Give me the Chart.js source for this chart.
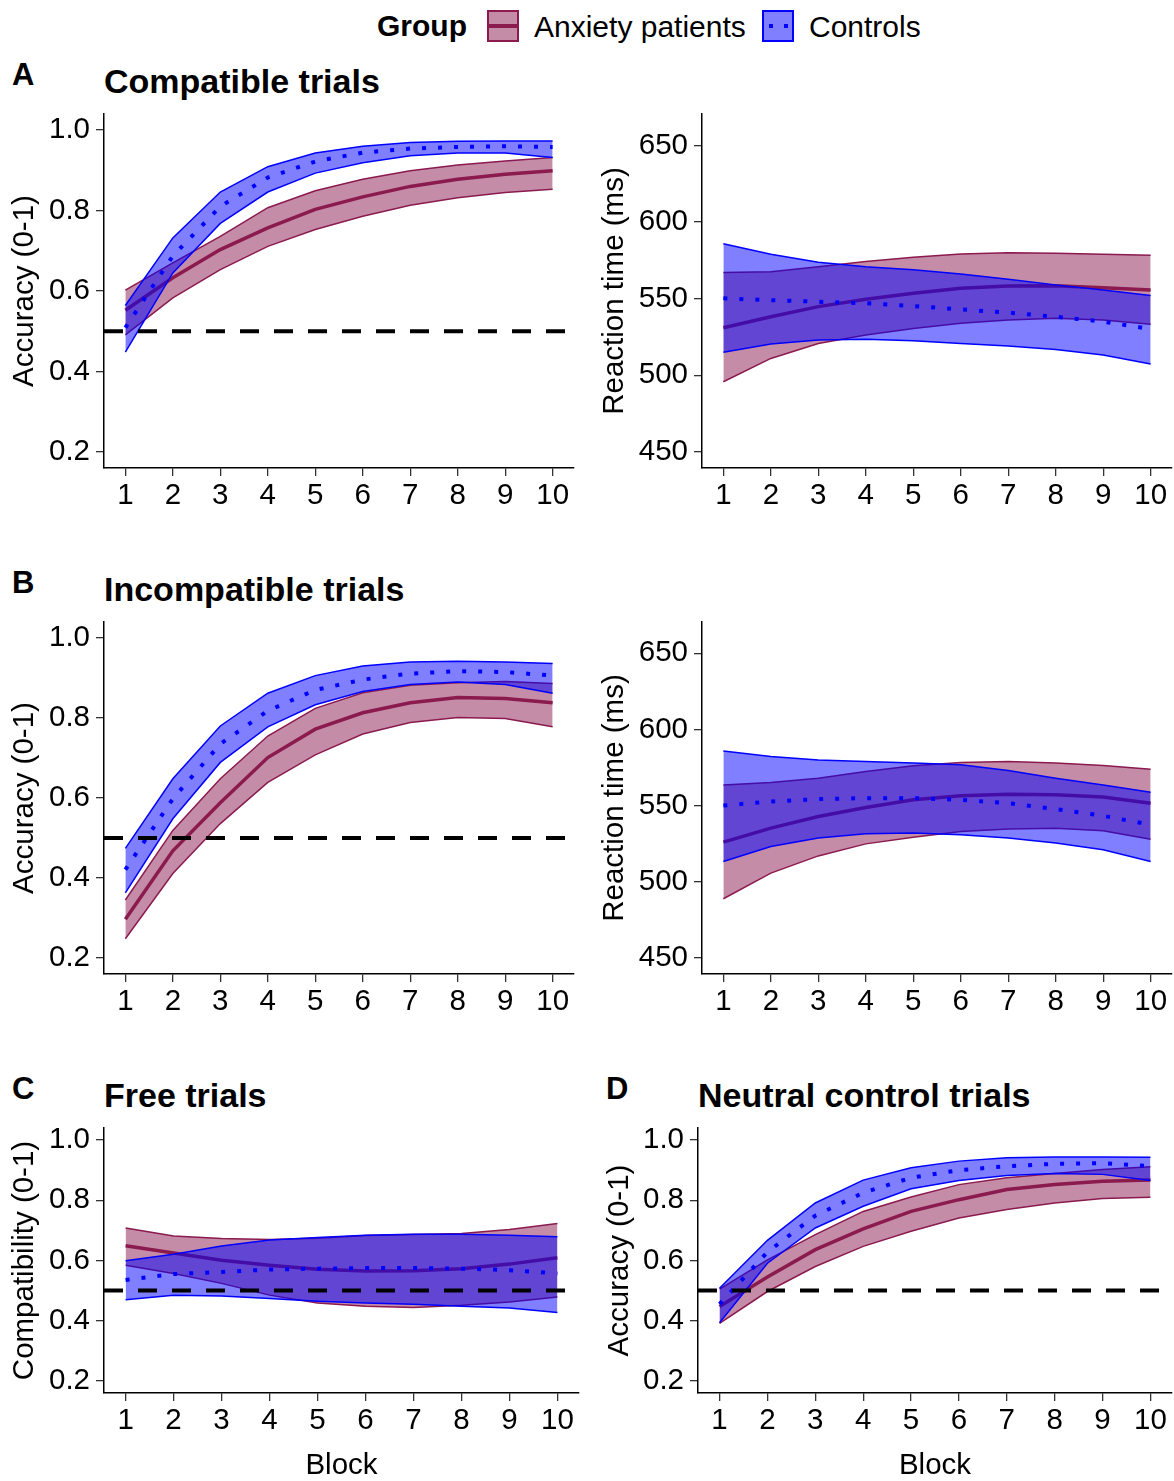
<!DOCTYPE html>
<html><head><meta charset="utf-8">
<script src="https://cdn.jsdelivr.net/npm/chart.js@4.4.0/dist/chart.umd.min.js"></script>
<style>
html,body{margin:0;padding:0;background:#fff;}
body{width:1174px;height:1481px;position:relative;overflow:hidden;font-family:"Liberation Sans",Arial,sans-serif;color:#000;}
canvas{position:absolute;}
.t{position:absolute;white-space:nowrap;line-height:1;}
.b{font-weight:bold;}
.key{position:absolute;width:28px;height:28px;box-sizing:content-box;}
</style></head>
<body>
<div class="t b" style="left:377px;top:11px;font-size:30px;">Group</div>
<div class="key" style="left:487px;top:10px;border:2px solid #8B1A4F;background:#C58CA7;"><div style="position:absolute;left:0;right:0;top:12px;height:4px;background:#8B1A4F;"></div></div>
<div class="t" style="left:534px;top:12px;font-size:30px;">Anxiety patients</div>
<div class="key" style="left:762px;top:10px;border:2px solid #0000FF;background:#8080FF;"><div style="position:absolute;left:5px;top:12px;width:4px;height:4px;background:#0000FF;"></div><div style="position:absolute;left:20px;top:12px;width:4px;height:4px;background:#0000FF;"></div></div>
<div class="t" style="left:809px;top:12px;font-size:30px;">Controls</div>

<div class="t b" style="left:12px;top:59px;font-size:31px;">A</div>
<div class="t b" style="left:104px;top:64px;font-size:34px;">Compatible trials</div>
<div class="t b" style="left:12px;top:567px;font-size:31px;">B</div>
<div class="t b" style="left:104px;top:572px;font-size:34px;">Incompatible trials</div>
<div class="t b" style="left:12px;top:1073px;font-size:31px;">C</div>
<div class="t b" style="left:104px;top:1078px;font-size:34px;">Free trials</div>
<div class="t b" style="left:606px;top:1073px;font-size:31px;">D</div>
<div class="t b" style="left:698px;top:1078px;font-size:34px;">Neutral control trials</div>

<canvas id="cA1"></canvas><canvas id="cA2"></canvas>
<canvas id="cB1"></canvas><canvas id="cB2"></canvas>
<canvas id="cC"></canvas><canvas id="cD"></canvas>

<script>
// ---- data ----
const blocks = [1, 2, 3, 4, 5, 6, 7, 8, 9, 10];
const accTicks = [0.2, 0.4, 0.6, 0.8, 1.0];
const accTickLabels = ['0.2', '0.4', '0.6', '0.8', '1.0'];
const rtTicks = [450, 500, 550, 600, 650];
const rtTickLabels = ['450', '500', '550', '600', '650'];
const chanceLevel = 0.5;

// A: compatible trials, accuracy
const accCompAnxHi   = [0.602, 0.670, 0.736, 0.807, 0.849, 0.878, 0.899, 0.913, 0.923, 0.932];
const accCompAnxMean = [0.552, 0.633, 0.703, 0.757, 0.803, 0.834, 0.860, 0.878, 0.890, 0.899];
const accCompAnxLo   = [0.491, 0.583, 0.653, 0.711, 0.753, 0.786, 0.813, 0.832, 0.845, 0.853];
const accCompCtlHi   = [0.564, 0.732, 0.846, 0.909, 0.943, 0.960, 0.969, 0.972, 0.973, 0.973];
const accCompCtlMean = [0.509, 0.687, 0.810, 0.882, 0.922, 0.944, 0.954, 0.958, 0.960, 0.958];
const accCompCtlLo   = [0.448, 0.645, 0.768, 0.846, 0.893, 0.919, 0.936, 0.943, 0.943, 0.932];
// A: compatible trials, reaction time
const rtCompAnxHi   = [567.0, 567.6, 570.9, 574.2, 577.0, 579.2, 580.0, 579.7, 579.0, 578.4];
const rtCompAnxMean = [531.0, 538.2, 544.8, 549.6, 553.5, 556.8, 558.3, 558.5, 557.2, 555.7];
const rtCompAnxLo   = [495.8, 511.0, 520.8, 526.3, 530.6, 533.9, 536.1, 537.2, 536.1, 533.3];
const rtCompCtlHi   = [585.8, 579.0, 573.8, 570.9, 568.8, 566.1, 562.6, 559.0, 555.7, 552.0];
const rtCompCtlMean = [550.2, 549.0, 548.0, 547.0, 545.2, 543.0, 540.9, 538.2, 535.0, 530.2];
const rtCompCtlLo   = [515.0, 520.4, 523.0, 523.5, 522.6, 520.8, 519.1, 516.9, 513.2, 507.3];
// B: incompatible trials, accuracy
const accIncAnxHi   = [0.345, 0.519, 0.648, 0.755, 0.824, 0.863, 0.882, 0.888, 0.891, 0.886];
const accIncAnxMean = [0.297, 0.468, 0.588, 0.701, 0.772, 0.813, 0.838, 0.851, 0.849, 0.838];
const accIncAnxLo   = [0.248, 0.411, 0.536, 0.639, 0.708, 0.760, 0.789, 0.801, 0.799, 0.778];
const accIncCtlHi   = [0.474, 0.648, 0.780, 0.862, 0.906, 0.930, 0.940, 0.942, 0.940, 0.936];
const accIncCtlMean = [0.421, 0.598, 0.735, 0.818, 0.870, 0.896, 0.911, 0.917, 0.915, 0.906];
const accIncCtlLo   = [0.363, 0.548, 0.689, 0.778, 0.833, 0.866, 0.884, 0.890, 0.884, 0.862];
// B: incompatible trials, reaction time
const rtIncAnxHi   = [563.6, 565.1, 568.0, 572.4, 576.1, 578.3, 578.9, 577.9, 576.3, 573.9];
const rtIncAnxMean = [526.0, 535.2, 542.9, 548.8, 553.8, 556.4, 557.5, 557.1, 555.6, 551.6];
const rtIncAnxLo   = [488.9, 505.7, 517.0, 524.9, 529.3, 533.0, 534.6, 535.2, 533.5, 528.0];
const rtIncCtlHi   = [585.9, 582.2, 580.0, 578.9, 577.9, 576.8, 573.0, 568.0, 563.6, 558.8];
const rtIncCtlMean = [550.1, 552.7, 554.3, 554.9, 554.9, 553.8, 551.6, 547.7, 543.3, 537.4];
const rtIncCtlLo   = [513.3, 523.2, 528.7, 531.5, 532.0, 530.9, 528.7, 525.4, 521.0, 513.3];
// C: free trials, compatibility
const freeAnxHi   = [0.708, 0.681, 0.673, 0.670, 0.674, 0.683, 0.686, 0.690, 0.703, 0.723];
const freeAnxMean = [0.649, 0.625, 0.601, 0.584, 0.571, 0.565, 0.566, 0.573, 0.588, 0.609];
const freeAnxLo   = [0.584, 0.557, 0.524, 0.485, 0.459, 0.448, 0.444, 0.451, 0.462, 0.479];
const freeCtlHi   = [0.599, 0.621, 0.648, 0.668, 0.676, 0.684, 0.687, 0.687, 0.684, 0.679];
const freeCtlMean = [0.535, 0.555, 0.562, 0.570, 0.573, 0.575, 0.575, 0.573, 0.568, 0.557];
const freeCtlLo   = [0.470, 0.485, 0.482, 0.474, 0.465, 0.459, 0.455, 0.448, 0.442, 0.427];
// D: neutral control trials, accuracy
const neuAnxHi   = [0.505, 0.602, 0.686, 0.763, 0.811, 0.852, 0.875, 0.889, 0.902, 0.911];
const neuAnxMean = [0.447, 0.545, 0.636, 0.705, 0.763, 0.802, 0.836, 0.852, 0.863, 0.867];
const neuAnxLo   = [0.391, 0.497, 0.580, 0.647, 0.697, 0.741, 0.769, 0.791, 0.806, 0.810];
const neuCtlHi   = [0.508, 0.667, 0.791, 0.867, 0.908, 0.930, 0.941, 0.944, 0.944, 0.943];
const neuCtlMean = [0.455, 0.628, 0.749, 0.825, 0.875, 0.900, 0.913, 0.921, 0.923, 0.913];
const neuCtlLo   = [0.393, 0.591, 0.708, 0.780, 0.838, 0.866, 0.882, 0.889, 0.886, 0.866];

// ---- styling ----
const FONT = '"Liberation Sans", Arial, sans-serif';
const ANX_LINE = '#8B1A4F', ANX_FILL = 'rgba(139,26,79,0.5)';
const CTL_LINE = '#0000FF', CTL_FILL = 'rgba(0,0,255,0.5)';
const TICK_SIZE = 29.5, TITLE_SIZE = 29.5;

const pts = ys => blocks.map((b, i) => ({x: b, y: ys[i]}));

const chancePlugin = {
  id: 'chance',
  afterDatasetsDraw(chart, args, opts) {
    if (opts.value == null) return;
    const ctx = chart.ctx, y = chart.scales.y.getPixelForValue(opts.value);
    const {left, right} = chart.chartArea;
    ctx.save();
    ctx.setLineDash([19, 15]);
    ctx.lineWidth = 4;
    ctx.strokeStyle = '#000';
    ctx.beginPath(); ctx.moveTo(left, y); ctx.lineTo(right, y); ctx.stroke();
    ctx.restore();
  }
};

function panel(id, cv, plot, ylim, yTicks, yLabels, yTitle, yTitleX, xTitle, s, chance) {
  const el = document.getElementById(id);
  el.width = cv.w; el.height = cv.h;
  el.style.left = cv.x + 'px'; el.style.top = cv.y + 'px';
  const yw = plot.l - cv.x, xh = cv.y + cv.h - plot.b;
  const titleLH = TITLE_SIZE * 1.2;
  new Chart(el, {
    type: 'line',
    data: { datasets: [
      {data: pts(s.anxHi), borderColor: ANX_LINE, backgroundColor: ANX_FILL, borderWidth: 1.5, fill: '+1', order: 10},
      {data: pts(s.anxLo), borderColor: ANX_LINE, borderWidth: 1.5, fill: false, order: 9},
      {data: pts(s.anxMean), borderColor: ANX_LINE, borderWidth: 3.5, fill: false, order: 8},
      {data: pts(s.ctlHi), borderColor: CTL_LINE, backgroundColor: CTL_FILL, borderWidth: 1.5, fill: '+1', order: 7},
      {data: pts(s.ctlLo), borderColor: CTL_LINE, borderWidth: 1.5, fill: false, order: 6},
      {data: pts(s.ctlMean), borderColor: CTL_LINE, borderWidth: 4, borderDash: [4, 12], borderCapStyle: 'butt', fill: false, order: 5}
    ]},
    options: {
      responsive: false, animation: false, devicePixelRatio: 1,
      layout: {padding: {left: 0, top: plot.t - cv.y, right: cv.x + cv.w - plot.r, bottom: 0}},
      elements: {point: {radius: 0}, line: {tension: 0}},
      plugins: {legend: {display: false}, tooltip: {enabled: false}, chance: {value: chance}},
      scales: {
        x: {
          type: 'linear', min: 0.55, max: 10.45,
          afterBuildTicks: sc => { sc.ticks = blocks.map(v => ({value: v})); },
          afterFit: sc => { sc.height = xh; sc.paddingLeft = 0; sc.paddingRight = 0; },
          grid: {drawOnChartArea: false, drawTicks: true, tickLength: 8, color: '#333', lineWidth: 1.3},
          border: {display: true, color: '#000', width: 1.5},
          ticks: {autoSkip: false, maxRotation: 0, padding: 2, color: '#000', font: {family: FONT, size: TICK_SIZE}},
          title: {display: !!xTitle, text: xTitle || '', color: '#000', font: {family: FONT, size: TITLE_SIZE}, padding: {top: 0, bottom: -3}}
        },
        y: {
          type: 'linear', min: ylim[0], max: ylim[1],
          afterBuildTicks: sc => { sc.ticks = yTicks.map(v => ({value: v})); },
          afterFit: sc => { sc.width = yw; sc.paddingTop = 0; sc.paddingBottom = 0; },
          grid: {drawOnChartArea: false, drawTicks: true, tickLength: 8, color: '#333', lineWidth: 1.3},
          border: {display: true, color: '#000', width: 1.5},
          ticks: {autoSkip: false, padding: 6, color: '#000', font: {family: FONT, size: TICK_SIZE},
                  callback: (v, i) => yLabels[yTicks.indexOf(v)]},
          title: {display: true, text: yTitle, color: '#000', font: {family: FONT, size: TITLE_SIZE},
                  padding: {top: yTitleX - titleLH / 2, bottom: 0}}
        }
      }
    },
    plugins: [chancePlugin]
  });
}

const accLim = [0.16, 1.04], rtLim = [439.5, 670.5];

panel('cA1', {x: 0, y: 100, w: 590, h: 420}, {l: 104, r: 574, t: 114, b: 468}, accLim, accTicks, accTickLabels,
  'Accuracy (0-1)', 25, null,
  {anxHi: accCompAnxHi, anxMean: accCompAnxMean, anxLo: accCompAnxLo, ctlHi: accCompCtlHi, ctlMean: accCompCtlMean, ctlLo: accCompCtlLo}, chanceLevel);
panel('cA2', {x: 590, y: 100, w: 584, h: 420}, {l: 702, r: 1172, t: 114, b: 468}, rtLim, rtTicks, rtTickLabels,
  'Reaction time (ms)', 25, null,
  {anxHi: rtCompAnxHi, anxMean: rtCompAnxMean, anxLo: rtCompAnxLo, ctlHi: rtCompCtlHi, ctlMean: rtCompCtlMean, ctlLo: rtCompCtlLo}, null);
panel('cB1', {x: 0, y: 607, w: 590, h: 420}, {l: 104, r: 574, t: 622, b: 974}, accLim, accTicks, accTickLabels,
  'Accuracy (0-1)', 25, null,
  {anxHi: accIncAnxHi, anxMean: accIncAnxMean, anxLo: accIncAnxLo, ctlHi: accIncCtlHi, ctlMean: accIncCtlMean, ctlLo: accIncCtlLo}, chanceLevel);
panel('cB2', {x: 590, y: 607, w: 584, h: 420}, {l: 702, r: 1172, t: 622, b: 974}, rtLim, rtTicks, rtTickLabels,
  'Reaction time (ms)', 25, null,
  {anxHi: rtIncAnxHi, anxMean: rtIncAnxMean, anxLo: rtIncAnxLo, ctlHi: rtIncCtlHi, ctlMean: rtIncCtlMean, ctlLo: rtIncCtlLo}, null);
panel('cC', {x: 0, y: 1110, w: 590, h: 371}, {l: 104, r: 579, t: 1128, b: 1393}, accLim, accTicks, accTickLabels,
  'Compatibility (0-1)', 25, 'Block',
  {anxHi: freeAnxHi, anxMean: freeAnxMean, anxLo: freeAnxLo, ctlHi: freeCtlHi, ctlMean: freeCtlMean, ctlLo: freeCtlLo}, chanceLevel);
panel('cD', {x: 590, y: 1110, w: 584, h: 371}, {l: 698, r: 1172, t: 1128, b: 1393}, accLim, accTicks, accTickLabels,
  'Accuracy (0-1)', 30, 'Block',
  {anxHi: neuAnxHi, anxMean: neuAnxMean, anxLo: neuAnxLo, ctlHi: neuCtlHi, ctlMean: neuCtlMean, ctlLo: neuCtlLo}, chanceLevel);
</script>
</body></html>
